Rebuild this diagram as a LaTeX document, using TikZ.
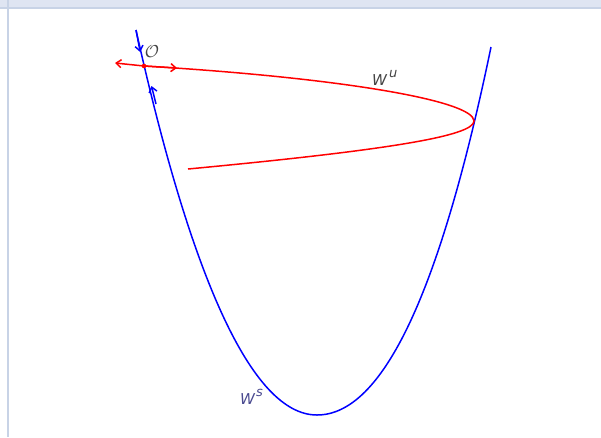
\documentclass[tikz,border=0pt]{standalone}
\usepackage{fontspec}
\newfontfamily\lblfont{DejaVu Sans}
\usetikzlibrary{arrows.meta}
\definecolor{bandfill}{HTML}{DFE5F2}
\definecolor{bandline}{HTML}{C8D3E6}
\definecolor{wsblue}{HTML}{4A4A90}
\definecolor{wugray}{HTML}{444444}
\tikzset{
  stable/.style={blue, line width=1.5pt},
  unstable/.style={red, line width=1.5pt},
  tipbarb/.style={-{Straight Barb[length=5pt,width=8pt]}},
  lbl/.style={font=\lblfont\itshape\fontsize{15}{17}\selectfont, inner sep=0pt},
  suplbl/.style={font=\lblfont\itshape\fontsize{13}{14}\selectfont, inner sep=0pt}
}
\begin{document}
\begin{tikzpicture}[x=1pt,y=-1pt]
\useasboundingbox (0,0) rectangle (601,437);
\fill[white] (0,0) rectangle (601,437);
% frame
\fill[bandfill] (0,0) rectangle (601,7);
\fill[bandline] (0,6.5) rectangle (601,8.5);
\fill[bandline] (6.5,0) rectangle (9,437);
% points
\coordinate (top) at (136,30);
\coordinate (O) at (144,66);
\coordinate (ra) at (177,68);
\coordinate (la) at (115,63);
\coordinate (bot) at (317,415);
\coordinate (rtop) at (491,47);
\coordinate (tip) at (474,121);
\coordinate (uend) at (188,169);
% stable manifold
\draw[stable] (top) .. controls (190.25,274) and (251,415) .. (bot)
  .. controls (383,415) and (440.25,291.75) .. (rtop);
\draw[stable, tipbarb] (top) -- (140.2,52);
\draw[stable, tipbarb] (156,104) -- (151.5,86);
% unstable manifold
\draw[unstable] (O) .. controls (344,78) and (474,101) .. (tip)
  .. controls (474,136) and (387.2,150.2) .. (uend);
\draw[unstable, tipbarb] (O) -- (la);
\draw[unstable, tipbarb] (O) -- (ra);
\fill[red] (O) circle (2.3pt);
% labels
\node[inner sep=0pt, text=wugray, font=\fontsize{17}{19}\selectfont] (Olbl) at (152,52) {$\mathcal{O}$};
\node[lbl, text=wugray, anchor=base west] (wu) at (372,85) {W};
\node[suplbl, text=wugray, anchor=base west] (wusup) at (389,77) {u};
\node[lbl, text=wsblue, anchor=base west] (ws) at (240,404) {W};
\node[suplbl, text=wsblue, anchor=base west] (wssup) at (256,396) {s};
\end{tikzpicture}
\end{document}
